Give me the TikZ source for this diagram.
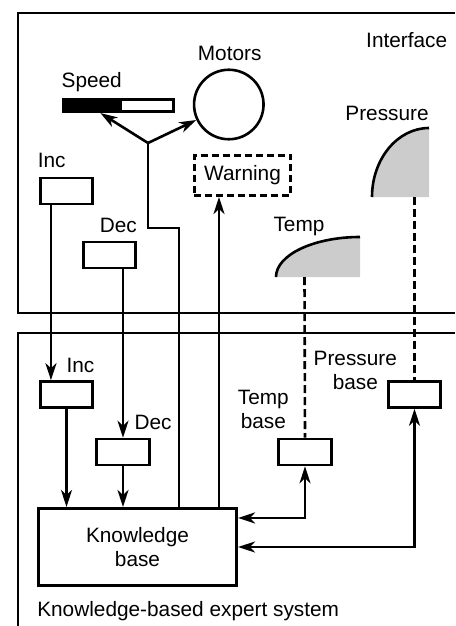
\documentclass[tikz,border=0pt]{standalone}
\usepackage{fontspec}
\setmainfont{Liberation Sans}
\usetikzlibrary{positioning,arrows.meta,calc}
\definecolor{gaugeGray}{RGB}{204,204,204}

\begin{document}
\begin{tikzpicture}[x=1pt,y=-1pt,line width=2.6pt,
  font=\fontsize{20.8pt}{24pt}\selectfont,
  box/.style={draw,minimum width=52.5pt,minimum height=26pt,inner sep=0pt},
  lbl/.style={anchor=base,inner sep=0pt},
  arr/.style={-{Stealth[length=17pt,width=11pt,inset=5pt]}},
  biarr/.style={{Stealth[length=17pt,width=11pt,inset=5pt]}-{Stealth[length=17pt,width=11pt,inset=5pt]}},
  dashline/.style={dash pattern=on 8pt off 4pt}]
\useasboundingbox (0,0) rectangle (455,626);
% --- frames ---
\draw (455,13) -- (18,13) -- (18,313) -- (455,313);
\draw (455,333) -- (18,333) -- (18,626);
\node[lbl] (ifc) at (406.7,48) {Interface};
\node[lbl,anchor=base west] (kbes) at (36,616.6) {Knowledge-based expert system};
% --- interface ---
\node[draw,circle,minimum size=69.5pt,inner sep=0pt] (motors) at (228.8,104.5) {};
\node[lbl] (motorsl) at (229.7,60) {Motors};
\node[draw,minimum width=110.5pt,minimum height=12.5pt,inner sep=0pt] (speed) at (118.5,105.5) {};
\fill (speed.north west) rectangle ($(speed.south west)!0.53!(speed.south east)$);
\node[lbl] (speedl) at (91.7,88) {Speed};
\node[box] (incu) at (66.5,191) {};
\node[lbl] (inculbl) at (51.7,167) {Inc};
\node[box] (decu) at (109.5,255) {};
\node[lbl] (deculbl) at (118.3,232) {Dec};
\node[draw,dash pattern=on 7pt off 4pt,minimum width=96.5pt,minimum height=40.5pt] (warn) at (242.5,175.5) {Warning};
% gauges
\fill[gaugeGray] (276,277) .. controls (276,255) and (313.6,237) .. (360,237) -- (360,277) -- cycle;
\draw (276,277) .. controls (276,255) and (313.6,237) .. (360,237);
\node[lbl] (templ) at (299,231) {Temp};
\fill[gaugeGray] (372,197) .. controls (372,159) and (397.5,128) .. (429,128) -- (429,197) -- cycle;
\draw (372,197) .. controls (372,159) and (397.5,128) .. (429,128);
\node[lbl] (pressl) at (387,120) {Pressure};
\coordinate (tempg) at (304.5,277);
\coordinate (pressg) at (414.5,197);
% --- expert system ---
\node[box] (incl) at (66.5,394.5) {};
\node[lbl] (incllbl) at (80.5,372) {Inc};
\node[box] (decl) at (123,452) {};
\node[lbl] (decllbl) at (153,429) {Dec};
\node[box] (tempb) at (305,452) {};
\node[anchor=north,align=center,inner sep=0pt] (tempbl) at (263.3,389) {Temp\\base};
\node[box] (pressb) at (414.5,394.5) {};
\node[anchor=north,align=center,inner sep=0pt] (pressbl) at (355.3,349.5) {Pressure\\base};
\node[draw,minimum width=198.5pt,minimum height=77.5pt,align=center] (kb) at (137.5,547) {Knowledge\\base};
% --- connectors ---
\coordinate (jn) at (148,143);
\coordinate (bend) at (148,228);
\coordinate (kn) at (179,228);
\coordinate (wx) at (219,0);
\draw (kn |- kb.north) -- (kn) -- (bend) -- (jn);
\draw[arr] (jn) -- ($(speed.south west)!0.34!(speed.south east)$);
\draw[arr] (jn) -- (motors);
\draw[arr] (wx |- kb.north) -- (wx |- warn.south);
\draw[arr] ([xshift=12pt]incu.south west) -- ([xshift=12pt]incl.north west);
\draw[arr] (decl.north |- decu.south) -- (decl.north);
\draw[arr] (incl.south) -- (incl.south |- kb.north);
\draw[arr] (decl.south) -- (decl.south |- kb.north);
\draw[dashline] (tempg) -- (tempb.north);
\draw[dashline] (pressg) -- (pressb.north);
\draw[biarr] (tempb.south) |- ([yshift=-11pt]kb.north east);
\draw[biarr] (pressb.south) |- (kb.east);
\end{tikzpicture}
\end{document}
